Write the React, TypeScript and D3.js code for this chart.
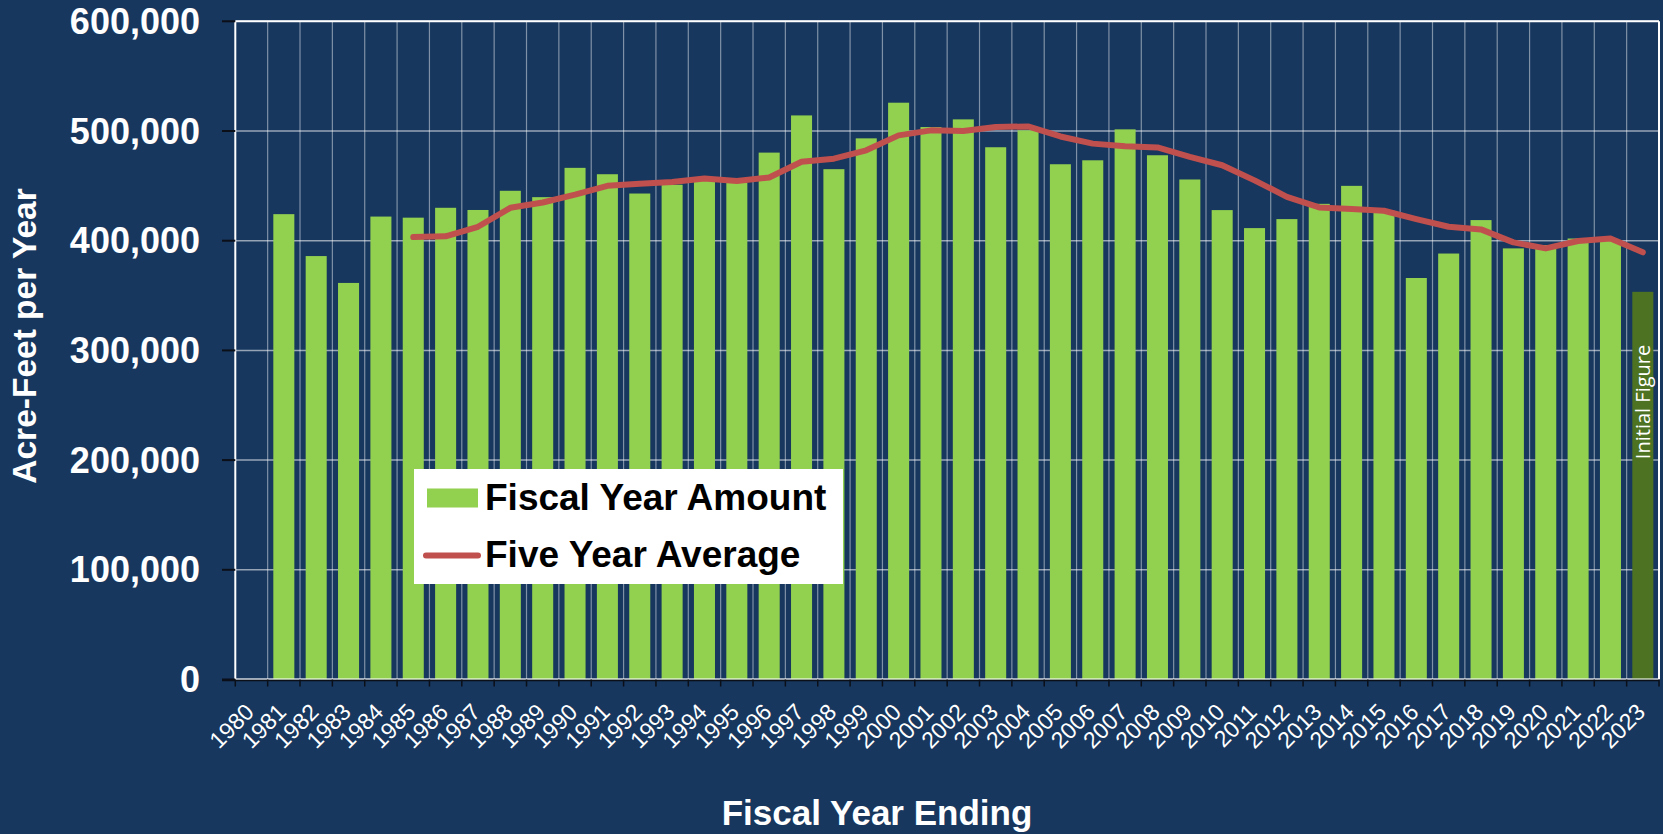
import React, { useEffect } from "react";
import * as d3 from "d3";

const years: string[] = d3.range(1980, 2024).map(String);
const amountYears: string[] = d3.range(1981, 2024).map(String);
const amounts: number[] = [
  424200, 386000, 361500, 422000, 421000, 430000, 428000, 445500, 439700, 466400,
  460600, 443000, 451000, 455000, 452700, 480300, 514200, 465200, 493300, 525800,
  503600, 510600, 485200, 500600, 469700, 473300, 501500, 477900, 455800, 427900,
  411500, 419700, 433600, 450000, 427300, 366000, 388300, 418800, 393000, 396000,
  402000, 400300, 353400,
];
const avgYears: string[] = d3.range(1985, 2024).map(String);
const averages: number[] = [
  403300, 404000, 412700, 430000, 434800, 442000, 450000, 452000, 453600, 456700,
  454500, 457600, 472000, 474800, 482400, 496000, 500600, 500000, 503600, 504200,
  495000, 488500, 486000, 485000, 476400, 468800, 455000, 440000, 430300, 428800,
  427300, 419700, 412700, 410300, 398500, 393000, 399700, 402000, 389400,
];
const yTicks: number[] = [0, 100000, 200000, 300000, 400000, 500000, 600000];
const initialYear = "2023";

const W = 1663;
const H = 834;
const BG = "#17375E";
const GREEN = "#92D050";
const DARK_GREEN = "#4D7222";
const RED = "#C0504D";
const FONT = "'Liberation Sans', Arial, sans-serif";

export default function App() {
  useEffect(() => {
    document.body.style.margin = "0";
    document.body.style.background = BG;
  }, []);

  const left = 235.3;
  const right = 1659;
  const top = 21.3;
  const bottom = 679.5;

  const x = d3.scaleBand<string>().domain(years).range([left, right]).padding(0);
  const y = d3.scaleLinear().domain([0, 600000]).range([bottom, top]);
  const bw = x.bandwidth();
  const barW = bw * 0.65;
  const fmt = d3.format(",");

  const lineGen = d3
    .line<number>()
    .x((_, i) => (x(avgYears[i]) as number) + bw / 2)
    .y((d) => y(d));

  return (
    <svg
      width={W}
      height={H}
      style={{ position: "absolute", left: 0, top: 0, display: "block" }}
      xmlns="http://www.w3.org/2000/svg"
    >
      <rect x={0} y={0} width={W} height={H} fill={BG} />

      {yTicks.map((t) => (
        <line
          key={"hg" + t}
          x1={left}
          x2={right}
          y1={y(t)}
          y2={y(t)}
          stroke="rgba(255,255,255,0.55)"
          strokeWidth={1.5}
        />
      ))}
      {years.slice(1).map((yr) => (
        <line
          key={"vg" + yr}
          x1={x(yr)}
          x2={x(yr)}
          y1={top}
          y2={bottom}
          stroke="rgba(255,255,255,0.45)"
          strokeWidth={1.2}
        />
      ))}

      {amounts.map((v, i) => {
        const yr = amountYears[i];
        const cx = (x(yr) as number) + bw / 2;
        return (
          <rect
            key={"b" + yr}
            x={cx - barW / 2}
            y={y(v)}
            width={barW}
            height={y(0) - y(v)}
            fill={yr === initialYear ? DARK_GREEN : GREEN}
          />
        );
      })}

      <text
        transform={`translate(${(x(initialYear) as number) + bw / 2 + 7},${y(253000)}) rotate(-90)`}
        textAnchor="middle"
        fill="#ffffff"
        fontFamily="'Open Sans', 'Noto Sans', sans-serif"
        fontSize={20}
      >
        Initial Figure
      </text>

      <path
        d={lineGen(averages) || ""}
        fill="none"
        stroke={RED}
        strokeWidth={6}
        strokeLinejoin="round"
        strokeLinecap="round"
      />

      <line x1={left} x2={right} y1={top} y2={top} stroke="#ffffff" strokeWidth={2} />
      <line x1={left} x2={left} y1={top} y2={bottom} stroke="#ffffff" strokeWidth={2} />
      <line x1={right} x2={right} y1={top} y2={bottom} stroke="#ffffff" strokeWidth={2} />
      <line x1={left} x2={right} y1={bottom - 0.5} y2={bottom - 0.5} stroke="rgba(255,255,255,0.7)" strokeWidth={1.5} />
      <line x1={222} x2={right} y1={bottom + 1} y2={bottom + 1} stroke="#0b0f18" strokeWidth={1.5} />

      {yTicks.map((t) => (
        <g key={"yt" + t}>
          <line x1={222} x2={left} y1={y(t)} y2={y(t)} stroke="#0b0f18" strokeWidth={2} />
          <text
            x={200}
            y={y(t) + 12.5}
            textAnchor="end"
            fill="#ffffff"
            fontFamily={FONT}
            fontWeight="bold"
            fontSize={36}
          >
            {fmt(t)}
          </text>
        </g>
      ))}

      {years.map((yr) => {
        const tx = x(yr) as number;
        return (
          <g key={"xt" + yr}>
            <line x1={tx} x2={tx} y1={bottom} y2={bottom + 7} stroke="#0b0f18" strokeWidth={1.5} />
            <text
              transform={`translate(${tx + 20},713.5) rotate(-45)`}
              textAnchor="end"
              fill="#ffffff"
              fontFamily={FONT}
              fontSize={23}
            >
              {yr}
            </text>
          </g>
        );
      })}
      <line x1={right} x2={right} y1={bottom} y2={bottom + 7} stroke="#0b0f18" strokeWidth={1.5} />

      <text
        transform={`translate(36,336) rotate(-90)`}
        textAnchor="middle"
        fill="#ffffff"
        fontFamily={FONT}
        fontWeight="bold"
        fontSize={33.5}
      >
        Acre-Feet per Year
      </text>
      <text
        x={877}
        y={825}
        textAnchor="middle"
        fill="#ffffff"
        fontFamily={FONT}
        fontWeight="bold"
        fontSize={35}
      >
        Fiscal Year Ending
      </text>

      <rect x={414} y={469} width={429} height={115} fill="#ffffff" />
      <rect x={427} y={488.5} width={51} height={19} fill={GREEN} />
      <line x1={426} x2={478} y1={555.5} y2={555.5} stroke={RED} strokeWidth={6} strokeLinecap="round" />
      <text x={485} y={509.5} fill="#000000" fontFamily={FONT} fontWeight="bold" fontSize={37}>
        Fiscal Year Amount
      </text>
      <text x={485} y={567} fill="#000000" fontFamily={FONT} fontWeight="bold" fontSize={37}>
        Five Year Average
      </text>
    </svg>
  );
}
